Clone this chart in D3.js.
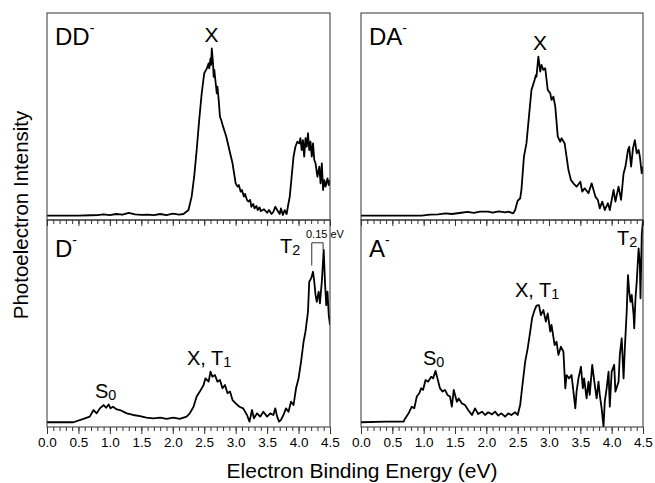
<!DOCTYPE html>
<html>
<head>
<meta charset="utf-8">
<script src="https://cdn.jsdelivr.net/npm/d3@7"></script>
<style>
  body { margin: 0; background: #fff; }
  svg { font-family: "Liberation Sans", Arial, sans-serif; }
  .tick-lbl { font-family: "Liberation Sans Narrow", "Arial Narrow", "Liberation Sans", Arial, sans-serif; }
</style>
</head>
<body>
<div id="chart"></div>
<script>
// Photoelectron spectra, [binding energy (eV), intensity (% of panel height)]
const ddSpectrum = [
  [0,2.1],[0.3,2.1],[0.5,2.1],[0.7,2.3],[0.8,2.4],[0.9,2.7],[1.0,2.4],[1.1,2.9],[1.2,2.6],[1.3,3.4],
  [1.4,2.7],[1.5,2.5],[1.6,2.6],[1.7,2.4],[1.8,2.9],[1.9,2.4],[2.0,3.1],[2.1,2.6],[2.17,2.9],[2.25,4.8],
  [2.30,11.3],[2.34,20.9],[2.38,33.8],[2.42,48.3],[2.46,61.2],[2.50,70.9],[2.53,72.5],[2.55,73.8],[2.57,75.7],[2.58,73.3],
  [2.60,78.1],[2.61,74.9],[2.62,82.9],[2.64,75.7],[2.65,69.2],[2.66,72.5],[2.68,66.8],[2.70,61.2],[2.71,64.4],[2.73,58.0],
  [2.75,49.9],[2.77,48.3],[2.80,45.1],[2.85,40.3],[2.90,33.8],[2.95,27.4],[3.00,17.7],[3.03,16.1],[3.05,16.9],[3.08,13.7],
  [3.10,14.5],[3.13,11.3],[3.15,12.6],[3.18,9.7],[3.20,8.9],[3.23,9.7],[3.25,6.4],[3.28,7.7],[3.30,5.6],[3.33,6.8],
  [3.35,4.8],[3.38,6.1],[3.40,4.3],[3.45,5.2],[3.50,3.5],[3.53,4.8],[3.57,2.9],[3.60,4.0],[3.63,6.4],[3.66,4.8],
  [3.70,2.9],[3.72,5.6],[3.75,2.4],[3.78,4.8],[3.81,2.9],[3.83,6.4],[3.86,11.3],[3.89,20.9],[3.92,30.6],[3.95,35.4],
  [3.98,37.8],[4.01,37.0],[4.03,39.5],[4.05,33.8],[4.07,38.6],[4.09,30.6],[4.11,39.5],[4.13,35.4],[4.15,41.9],[4.17,33.8],
  [4.19,37.8],[4.21,30.6],[4.23,37.0],[4.25,29.0],[4.27,27.4],[4.30,20.9],[4.33,25.8],[4.35,17.7],[4.37,27.4],[4.39,14.5],
  [4.41,19.3],[4.43,16.1],[4.46,20.1],[4.48,16.9],[4.50,19.3]
];
const daSpectrum = [
  [0,2.1],[0.5,2.1],[0.97,2.1],[1.1,2.6],[1.23,2.7],[1.35,3.2],[1.45,2.9],[1.6,3.5],[1.7,3.9],[1.8,3.4],
  [1.9,4.0],[2.03,4.0],[2.1,3.6],[2.2,4.2],[2.3,3.7],[2.35,4.0],[2.43,3.2],[2.46,4.8],[2.50,9.3],[2.54,10.5],
  [2.56,14.5],[2.60,30.6],[2.64,37.0],[2.68,49.9],[2.72,62.8],[2.77,67.6],[2.79,70.0],[2.80,69.2],[2.83,78.9],[2.86,71.7],
  [2.88,74.9],[2.91,72.5],[2.94,73.3],[2.98,62.8],[3.02,61.2],[3.04,58.0],[3.07,59.6],[3.10,54.8],[3.14,40.3],[3.18,37.8],
  [3.20,39.5],[3.25,37.0],[3.28,30.6],[3.31,24.2],[3.35,19.3],[3.39,17.7],[3.44,16.1],[3.50,18.5],[3.53,13.7],[3.57,15.3],
  [3.63,12.9],[3.68,17.7],[3.74,11.3],[3.78,9.7],[3.81,5.6],[3.85,8.9],[3.89,4.8],[3.94,8.1],[3.97,4.8],[4.03,14.5],
  [4.06,8.9],[4.11,16.1],[4.15,9.7],[4.19,22.5],[4.22,25.8],[4.26,33.8],[4.28,35.4],[4.31,25.8],[4.34,34.6],[4.37,38.6],
  [4.40,32.2],[4.43,33.8],[4.45,30.6],[4.48,22.5],[4.50,25.8]
];
const dSpectrum = [
  [0,2.3],[0.42,2.3],[0.58,3.9],[0.68,5.0],[0.74,8.2],[0.79,6.6],[0.84,9.0],[0.90,10.6],[0.94,9.3],[0.98,10.9],
  [1.01,9.0],[1.05,9.8],[1.11,8.5],[1.16,8.2],[1.27,6.6],[1.37,5.8],[1.48,5.3],[1.58,4.5],[1.69,4.2],[1.80,4.5],
  [1.90,3.9],[2.01,4.5],[2.11,3.9],[2.22,5.0],[2.27,6.6],[2.33,9.8],[2.38,14.7],[2.43,17.1],[2.49,20.3],[2.52,23.5],
  [2.57,21.9],[2.60,26.7],[2.63,24.3],[2.67,25.1],[2.71,21.9],[2.75,22.7],[2.79,18.7],[2.83,20.3],[2.87,16.3],[2.91,17.1],
  [2.95,13.0],[3.00,11.4],[3.06,9.8],[3.12,9.0],[3.18,5.8],[3.22,2.6],[3.26,8.2],[3.29,4.2],[3.34,6.6],[3.39,5.0],
  [3.44,7.4],[3.50,5.0],[3.55,6.6],[3.60,5.8],[3.63,9.0],[3.66,5.0],[3.69,2.6],[3.72,3.4],[3.76,5.8],[3.80,9.0],
  [3.84,7.4],[3.88,12.2],[3.92,10.6],[3.96,18.7],[4.00,23.5],[4.04,31.6],[4.08,41.2],[4.11,46.1],[4.15,55.7],[4.17,70.2],
  [4.20,71.8],[4.23,75.0],[4.25,70.2],[4.27,63.8],[4.29,60.5],[4.32,65.4],[4.34,59.7],[4.37,70.2],[4.40,85.5],[4.42,70.2],
  [4.44,58.9],[4.46,65.4],[4.48,54.1],[4.50,49.3]
];
const aSpectrum = [
  [0,2.3],[0.4,2.6],[0.68,2.6],[0.70,3.9],[0.76,6.6],[0.81,9.8],[0.85,9.0],[0.89,14.7],[0.93,16.3],[0.96,18.7],
  [0.99,17.9],[1.03,22.7],[1.07,21.9],[1.12,24.3],[1.15,23.5],[1.19,27.1],[1.22,23.5],[1.26,18.7],[1.30,17.1],[1.34,17.9],
  [1.38,15.5],[1.42,14.7],[1.45,9.8],[1.48,17.9],[1.53,12.2],[1.56,13.8],[1.61,11.4],[1.66,10.6],[1.71,8.2],[1.77,5.8],
  [1.82,9.0],[1.87,6.3],[1.93,7.4],[1.98,5.8],[2.03,7.1],[2.09,6.1],[2.14,7.4],[2.19,5.5],[2.24,6.6],[2.30,5.0],
  [2.35,6.6],[2.40,5.8],[2.46,7.1],[2.50,5.8],[2.54,10.6],[2.57,18.7],[2.62,31.6],[2.66,38.0],[2.70,46.1],[2.73,52.5],
  [2.77,56.5],[2.80,58.6],[2.84,58.9],[2.87,54.1],[2.91,56.5],[2.95,50.9],[2.98,54.9],[3.02,46.1],[3.04,49.3],[3.09,39.6],
  [3.12,41.2],[3.15,34.8],[3.19,38.8],[3.23,36.4],[3.26,18.7],[3.28,25.1],[3.32,23.5],[3.36,25.1],[3.39,17.1],[3.42,9.0],
  [3.44,17.1],[3.47,23.5],[3.51,29.1],[3.54,18.7],[3.56,23.5],[3.60,13.8],[3.63,21.9],[3.65,15.5],[3.69,30.0],[3.73,20.3],
  [3.76,13.8],[3.79,21.9],[3.81,15.5],[3.84,9.0],[3.87,0.2],[3.89,12.2],[3.92,18.7],[3.95,26.7],[3.97,9.8],[4.00,26.7],
  [4.04,30.0],[4.06,17.1],[4.11,21.9],[4.13,34.8],[4.16,42.8],[4.19,23.5],[4.21,38.0],[4.24,55.7],[4.26,73.4],[4.28,65.4],
  [4.30,60.5],[4.32,63.8],[4.35,54.1],[4.36,47.7],[4.38,62.2],[4.40,70.2],[4.43,86.3],[4.45,78.3],[4.46,62.2],[4.48,92.8],
  [4.50,100]
];
const majorTicks = [0, 0.5, 1.0, 1.5, 2.0, 2.5, 3.0, 3.5, 4.0, 4.5];
const minorTicks = d3.range(0, 46).map(i => i / 10);

const width = 655, height = 483;
const cols = [{ x0: 47, x1: 330 }, { x0: 361, x1: 643 }];
const rows = [{ y0: 13, y1: 220 }, { y0: 220, y1: 427 }];

const svg = d3.select('#chart').append('svg')
  .attr('width', width)
  .attr('height', height);

const panels = [
  { id: 'dd', data: ddSpectrum, col: 0, row: 0, label: 'DD' },
  { id: 'da', data: daSpectrum, col: 1, row: 0, label: 'DA' },
  { id: 'd', data: dSpectrum, col: 0, row: 1, label: 'D' },
  { id: 'a', data: aSpectrum, col: 1, row: 1, label: 'A' }
];

// adds text like "T" + subscript "2"
function subText(g, x, y, main, sub, size) {
  const t = g.append('text').attr('x', x).attr('y', y).attr('font-size', size);
  t.append('tspan').text(main);
  t.append('tspan').attr('font-size', size * 0.72).attr('dy', size * 0.12).text(sub);
  return t;
}

panels.forEach(p => {
  const c = cols[p.col], r = rows[p.row];
  const x = d3.scaleLinear().domain([0, 4.5]).range([c.x0, c.x1]);
  const y = d3.scaleLinear().domain([0, 100]).range([r.y1, r.y0]);
  p.x = x; p.y = y;

  svg.append('clipPath').attr('id', 'clip-' + p.id)
    .append('rect')
    .attr('x', c.x0).attr('y', r.y0)
    .attr('width', c.x1 - c.x0).attr('height', r.y1 - r.y0);

  const line = d3.line().x(d => x(d[0])).y(d => y(d[1]));
  svg.append('path')
    .datum(p.data)
    .attr('clip-path', `url(#clip-${p.id})`)
    .attr('fill', 'none')
    .attr('stroke', '#000')
    .attr('stroke-width', 1.8)
    .attr('stroke-linejoin', 'round')
    .attr('d', line);

  svg.append('rect')
    .attr('x', c.x0).attr('y', r.y0)
    .attr('width', c.x1 - c.x0).attr('height', r.y1 - r.y0)
    .attr('fill', 'none')
    .attr('stroke', '#333')
    .attr('stroke-width', 1);

  // ticks along the bottom edge, pointing down
  const minorAx = svg.append('g')
    .attr('transform', `translate(0,${r.y1})`)
    .call(d3.axisBottom(x).tickValues(minorTicks).tickSize(4).tickFormat(''));
  const majorAx = svg.append('g')
    .attr('transform', `translate(0,${r.y1})`)
    .call(d3.axisBottom(x).tickValues(majorTicks).tickSize(p.row === 1 ? 7 : 6)
      .tickPadding(3)
      .tickFormat(p.row === 1 ? d3.format('.1f') : ''));
  [minorAx, majorAx].forEach(ax => {
    ax.select('.domain').remove();
    ax.selectAll('line').attr('stroke', '#333');
  });
  majorAx.selectAll('text')
    .attr('class', 'tick-lbl')
    .attr('font-size', 13.5)
    .attr('fill', '#000');

  // panel name with superscript minus
  const name = svg.append('text')
    .attr('x', c.x0 + 8).attr('y', r.y0 + (p.row === 0 ? 32 : 37))
    .attr('font-size', 24);
  name.append('tspan').text(p.label);
  name.append('tspan').attr('font-size', 14).attr('dy', -12).text('-');
});

const [pDD, pDA, pD, pA] = panels;
const ann = svg.append('g').attr('fill', '#000');

ann.append('text').attr('x', 211.5).attr('y', 42).attr('text-anchor', 'middle').attr('font-size', 21).text('X');
ann.append('text').attr('x', 540).attr('y', 50).attr('text-anchor', 'middle').attr('font-size', 21).text('X');

subText(ann, 95, 398, 'S', '0', 20);
subText(ann, 187, 365, 'X, T', '1', 20);
subText(ann, 280, 253, 'T', '2', 20);
subText(ann, 423, 365, 'S', '0', 20);
subText(ann, 515, 297, 'X, T', '1', 20);
subText(ann, 617, 245, 'T', '2', 20);

// 0.15 eV spacing bracket over the T2 band of D-
const bx0 = pD.x(4.21), bx1 = pD.x(4.39);
ann.append('path')
  .attr('d', `M${bx0},${pD.y(78)}V${pD.y(89)}H${bx1}V${pD.y(85.5)}`)
  .attr('fill', 'none')
  .attr('stroke', '#333')
  .attr('stroke-width', 1);
ann.append('text').attr('x', 306).attr('y', 238).attr('font-size', 11).text('0.15 eV');

svg.append('text')
  .attr('x', 362).attr('y', 478)
  .attr('text-anchor', 'middle')
  .attr('font-size', 21)
  .text('Electron Binding Energy (eV)');

svg.append('text')
  .attr('transform', 'translate(28,215) rotate(-90)')
  .attr('text-anchor', 'middle')
  .attr('font-size', 20.5)
  .text('Photoelectron Intensity');
</script>
</body>
</html>
